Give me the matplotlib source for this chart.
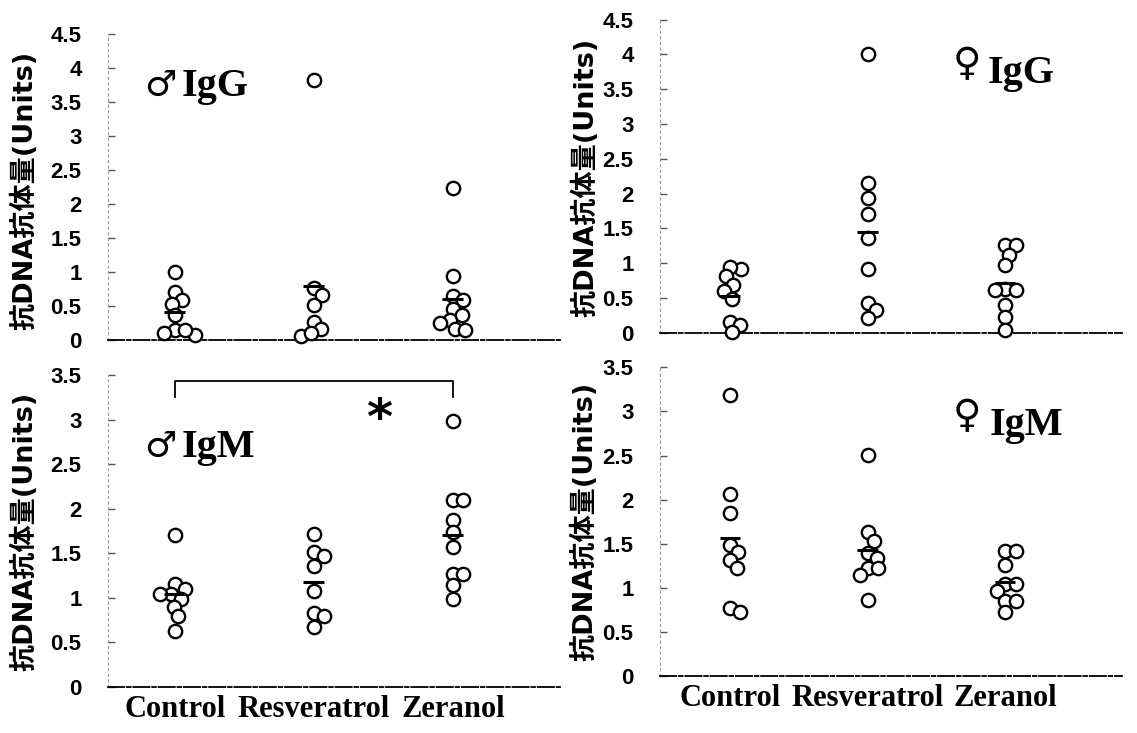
import numpy as np
import matplotlib
matplotlib.use("Agg")
import matplotlib.pyplot as plt
from matplotlib.ticker import FixedLocator, FuncFormatter

# ---- data -------------------------------------------------------------
groups = ["Control", "Resveratrol", "Zeranol"]

male_igg_control = [1.00, 0.71, 0.59, 0.53, 0.37, 0.14, 0.07, 0.11, 0.14]
male_igg_resveratrol = [3.82, 0.76, 0.66, 0.51, 0.27, 0.16, 0.06, 0.11]
male_igg_zeranol = [2.24, 0.94, 0.64, 0.59, 0.45, 0.30, 0.37, 0.25, 0.16, 0.15]

female_igg_control = [0.92, 0.95, 0.81, 0.69, 0.60, 0.49, 0.16, 0.11, 0.01]
female_igg_resveratrol = [4.01, 2.15, 1.93, 1.71, 1.36, 0.92, 0.43, 0.33, 0.21]
female_igg_zeranol = [1.26, 1.26, 1.12, 0.97, 0.63, 0.61, 0.61, 0.40, 0.22, 0.04]

male_igm_control = [1.70, 1.15, 1.10, 1.04, 1.04, 0.99, 0.90, 0.79, 0.62]
male_igm_resveratrol = [1.72, 1.51, 1.47, 1.36, 1.07, 0.83, 0.79, 0.67]
male_igm_zeranol = [2.98, 2.10, 2.10, 1.87, 1.74, 1.57, 1.26, 1.26, 1.14, 0.99]

female_igm_control = [3.19, 2.06, 1.85, 1.49, 1.41, 1.32, 1.23, 0.77, 0.72]
female_igm_resveratrol = [2.51, 1.63, 1.53, 1.40, 1.34, 1.23, 1.22, 1.15, 0.86]
female_igm_zeranol = [1.42, 1.42, 1.26, 1.04, 1.04, 0.96, 0.85, 0.85, 0.73]

igg_ticks = [0, 0.5, 1, 1.5, 2, 2.5, 3, 3.5, 4, 4.5]
igm_ticks = [0, 0.5, 1, 1.5, 2, 2.5, 3, 3.5]

ylabel_text = "抗DNA抗体量(Units)"
sex_symbols = ["♂", "♀", "♂", "♀"]
isotypes = ["IgG", "IgG", "IgM", "IgM"]

# significance bracket in the male IgM panel (between Control and Zeranol)
sig_pair = (1, 3)
sig_bracket_top = 3.43
sig_bracket_foot = 3.25
sig_mark = "*"

# ---- figure -----------------------------------------------------------
W, H = 1137, 733
DPI = 100
fig = plt.figure(figsize=(W / DPI, H / DPI), dpi=DPI)


def px_axes(left, right, bottom, top):
    """Axes placed by pixel edges (origin top-left)."""
    return fig.add_axes([left / W, 1 - bottom / H, (right - left) / W, (bottom - top) / H])


def fx(x):
    return x / W


def fy(y):
    return 1 - y / H


MARKER_MS = 9.6
DMIN_PX = 10.5


def swarm_x(ax, xc, values):
    """Beeswarm-style horizontal offsets so circles do not stack on top of each other."""
    pts = ax.transData.transform([(xc, v) for v in values])
    ys = pts[:, 1]
    order = np.argsort(-ys)
    placed = []
    offs = np.zeros(len(values))
    for i in order:
        y = ys[i]
        found = None
        k = 0
        while found is None:
            cands = [0.0] if k == 0 else [k * 0.5, -k * 0.5]
            for off in cands:
                if all((off - px) ** 2 + (y - py) ** 2 >= DMIN_PX ** 2 for px, py in placed):
                    found = off
                    break
            k += 1
        placed.append((found, y))
        offs[i] = found
    disp = np.column_stack([pts[:, 0] + offs, ys])
    return ax.transData.inverted().transform(disp)[:, 0]


def fmt_tick(v, _pos):
    return "%g" % v


def style_axes(ax, ticks, xlim, ylim, show_xlabels):
    ax.set_xlim(*xlim)
    ax.set_ylim(*ylim)
    for side in ("top", "right"):
        ax.spines[side].set_visible(False)
    ax.spines["left"].set_color("#9a9a9a")
    ax.spines["left"].set_linewidth(0.8)
    ax.spines["left"].set_linestyle((0, (2, 3)))
    ax.spines["bottom"].set_color("black")
    ax.spines["bottom"].set_linewidth(1.3)
    ax.spines["bottom"].set_linestyle((0, (9, 1.5, 2, 1.5)))
    ax.yaxis.set_major_locator(FixedLocator(ticks))
    ax.yaxis.set_major_formatter(FuncFormatter(fmt_tick))
    ax.tick_params(axis="y", direction="in", length=5, width=1, color="#555555",
                   pad=19, labelsize=16)
    for lab in ax.get_yticklabels():
        lab.set_fontfamily(["Liberation Sans", "DejaVu Sans"])
        lab.set_fontweight("bold")
    ax.set_xticks([1, 2, 3])
    if show_xlabels:
        ax.set_xticklabels(groups, fontsize=22, fontweight="bold",
                           fontfamily=["Liberation Serif", "DejaVu Serif"])
        ax.tick_params(axis="x", length=0, pad=6)
    else:
        ax.set_xticklabels([])
        ax.tick_params(axis="x", length=0)
    ax.patch.set_alpha(0)


def draw_groups(ax, series):
    for xc, vals in zip([1, 2, 3], series):
        xs = swarm_x(ax, xc, vals)
        ax.plot(xs, vals, linestyle="none", marker="o", ms=MARKER_MS,
                mfc="white", mec="black", mew=1.7, zorder=3, clip_on=False)
        m = float(np.mean(vals))
        ax.plot([xc - 0.075, xc + 0.075], [m, m], color="black", lw=2.2,
                solid_capstyle="butt", zorder=4)


# panel layout (pixel edges)
ax_tl = px_axes(108, 560, 340, 34)
ax_tr = px_axes(660, 1122, 332.7, 19.6)
ax_bl = px_axes(108, 560, 686.7, 375)
ax_br = px_axes(660, 1122, 676, 367.3)

style_axes(ax_tl, igg_ticks, (0.52, 3.77), (0, 4.5), False)
style_axes(ax_tr, igg_ticks, (0.49, 3.85), (0, 4.5), False)
style_axes(ax_bl, igm_ticks, (0.52, 3.77), (0, 3.5), True)
style_axes(ax_br, igm_ticks, (0.49, 3.85), (0, 3.5), True)

draw_groups(ax_tl, [male_igg_control, male_igg_resveratrol, male_igg_zeranol])
draw_groups(ax_tr, [female_igg_control, female_igg_resveratrol, female_igg_zeranol])
draw_groups(ax_bl, [male_igm_control, male_igm_resveratrol, male_igm_zeranol])
draw_groups(ax_br, [female_igm_control, female_igm_resveratrol, female_igm_zeranol])

# significance bracket
x0, x1 = sig_pair
ax_bl.plot([x0, x0, x1, x1], [sig_bracket_foot, sig_bracket_top, sig_bracket_top, sig_bracket_foot],
           color="black", lw=1.3, clip_on=False)
ax_bl.text(2.47, 2.99, sig_mark, ha="center", va="center", fontsize=36,
           fontweight="bold", fontfamily="DejaVu Sans")

# y-axis labels
ylab_font = dict(rotation=90, ha="center", va="center", fontsize=19.5, fontweight="bold",
                 fontfamily=["DejaVu Sans", "Noto Sans CJK JP"])
fig.text(fx(25), fy(190), ylabel_text, **ylab_font)
fig.text(fx(586), fy(177), ylabel_text, **ylab_font)
fig.text(fx(25), fy(531), ylabel_text, **ylab_font)
fig.text(fx(585), fy(521), ylabel_text, **ylab_font)

# panel titles: sex symbol followed by the isotype name
sym_sizes = {"♂": 26, "♀": 28}
sym_raise = {"♂": 0, "♀": 8}
iso_font = dict(ha="left", va="baseline", fontsize=29, fontweight="bold",
                fontfamily=["Liberation Serif", "DejaVu Serif"])
title_anchor = [(144, 182, 96), (953, 988, 83), (144, 182, 457), (953, 990, 435)]
for (sx, ix, base), sym, iso in zip(title_anchor, sex_symbols, isotypes):
    fig.text(fx(sx), fy(base - sym_raise[sym]), sym, ha="left", va="baseline",
             fontsize=sym_sizes[sym], fontweight="bold", fontfamily="DejaVu Sans")
    fig.text(fx(ix), fy(base), iso, **iso_font)

fig.savefig("out.png", dpi=DPI, facecolor="white")
